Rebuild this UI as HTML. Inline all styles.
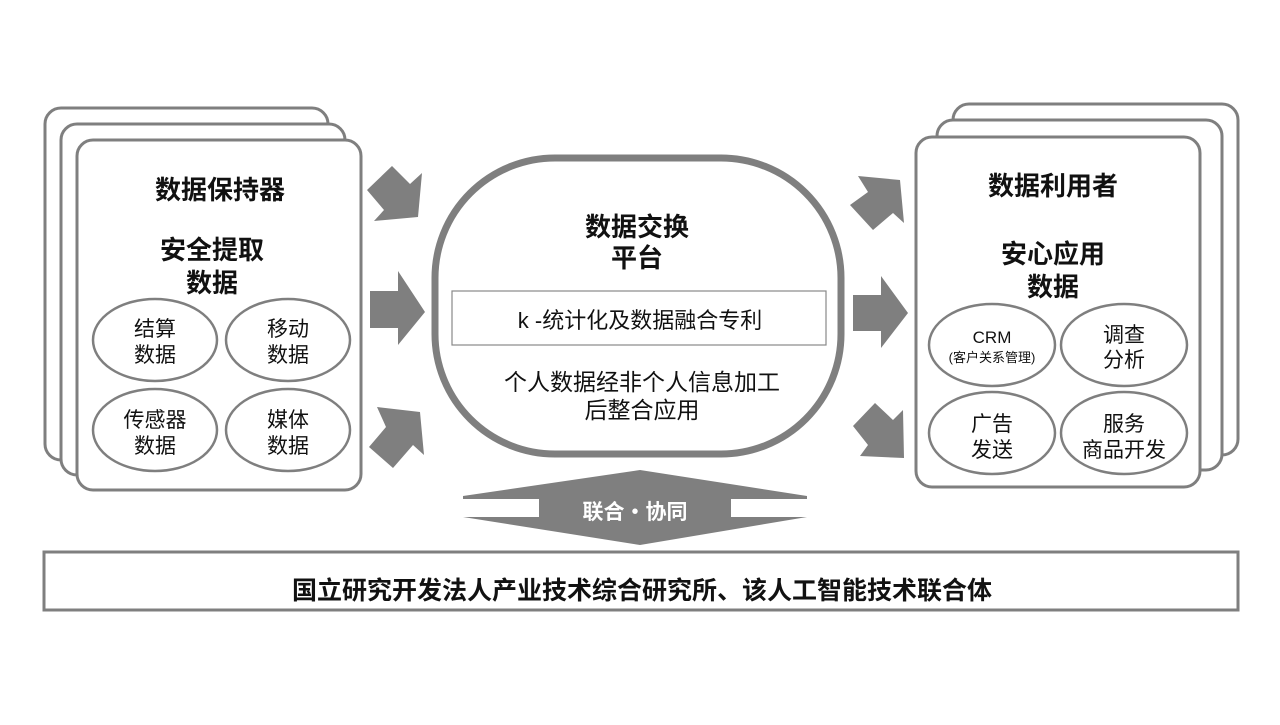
<!DOCTYPE html>
<html><head><meta charset="utf-8"><style>
body{margin:0;background:#fff;}
svg text{font-family:"Liberation Sans","Noto Sans CJK SC",sans-serif;fill:#111;}
</style></head><body>
<svg width="1280" height="720" viewBox="0 0 1280 720" xmlns="http://www.w3.org/2000/svg">
<g fill="#fff" stroke="#7f7f7f" stroke-width="3">
<rect x="45" y="108" width="283" height="352" rx="16"/>
<rect x="61" y="124" width="284" height="351" rx="16"/>
<rect x="77" y="140" width="284" height="350" rx="16"/>
<rect x="953" y="104" width="285" height="351" rx="16"/>
<rect x="937" y="120" width="285" height="350" rx="16"/>
<rect x="916" y="137" width="284" height="350" rx="16"/>
</g>
<g fill="#fff" stroke="#7f7f7f" stroke-width="2.5">
<ellipse cx="155" cy="340" rx="62" ry="41"/>
<ellipse cx="288" cy="340" rx="62" ry="41"/>
<ellipse cx="155" cy="430" rx="62" ry="41"/>
<ellipse cx="288" cy="430" rx="62" ry="41"/>
<ellipse cx="992" cy="345" rx="63" ry="41"/>
<ellipse cx="1124" cy="345" rx="63" ry="41"/>
<ellipse cx="992" cy="433" rx="63" ry="41"/>
<ellipse cx="1124" cy="433" rx="63" ry="41"/>
</g>
<rect x="435" y="158" width="406" height="296" rx="120" fill="#fff" stroke="#7f7f7f" stroke-width="7"/>
<rect x="452" y="291" width="374" height="54" fill="#fff" stroke="#888" stroke-width="1.2"/>
<g fill="#7f7f7f">
<polygon points="367,190 392,166 410,184 422,173 418,217 374,221 384,210"/>
<polygon points="370,291 398,291 398,271 425,312 398,345 398,328 370,328"/>
<polygon points="377,407 420,412 424,455 413,445 393,468 369,447 386,427"/>
<polygon points="858,176 900,180 904,223 893,213 873,230 850,205 868,192"/>
<polygon points="853,295 881,295 881,276 908,313 881,348 881,331 853,331"/>
<polygon points="875,403 893,420 903,410 904,458 860,456 868,445 853,426"/>
<polygon points="463,496 640,470 807,496 807,517 640,545 463,517"/>
</g>
<rect x="463" y="499" width="76" height="18" fill="#fff"/>
<rect x="731" y="499" width="76" height="18" fill="#fff"/>
<text x="635" y="519" font-size="21" font-weight="bold" text-anchor="middle" style="fill:#fff">联合・协同</text>
<rect x="44" y="552" width="1194" height="58" fill="#fff" stroke="#7f7f7f" stroke-width="3"/>
<text x="642" y="599" font-size="25" font-weight="bold" text-anchor="middle">国立研究开发法人产业技术综合研究所、该人工智能技术联合体</text>
<g font-weight="bold" font-size="26" text-anchor="middle">
<text x="220" y="199">数据保持器</text>
<text x="212" y="259">安全提取</text>
<text x="212" y="292">数据</text>
<text x="1053" y="195">数据利用者</text>
<text x="1053" y="263">安心应用</text>
<text x="1053" y="296">数据</text>
<text x="637" y="236">数据交换</text>
<text x="637" y="267">平台</text>
</g>
<g font-size="21" text-anchor="middle">
<text x="155" y="336">结算</text><text x="155" y="362">数据</text>
<text x="288" y="336">移动</text><text x="288" y="362">数据</text>
<text x="155" y="427">传感器</text><text x="155" y="453">数据</text>
<text x="288" y="427">媒体</text><text x="288" y="453">数据</text>
<text x="1124" y="342">调查</text><text x="1124" y="367">分析</text>
<text x="992" y="431">广告</text><text x="992" y="457">发送</text>
<text x="1124" y="431">服务</text><text x="1124" y="457">商品开发</text>
<text x="992" y="343" font-size="17">CRM</text>
<text x="992" y="362" font-size="13">(客户关系管理)</text>
<text x="640" y="328" font-size="22">k -统计化及数据融合专利</text>
<text x="642" y="390" font-size="23">个人数据经非个人信息加工</text>
<text x="642" y="418" font-size="23">后整合应用</text>
</g>
</svg>
</body></html>
